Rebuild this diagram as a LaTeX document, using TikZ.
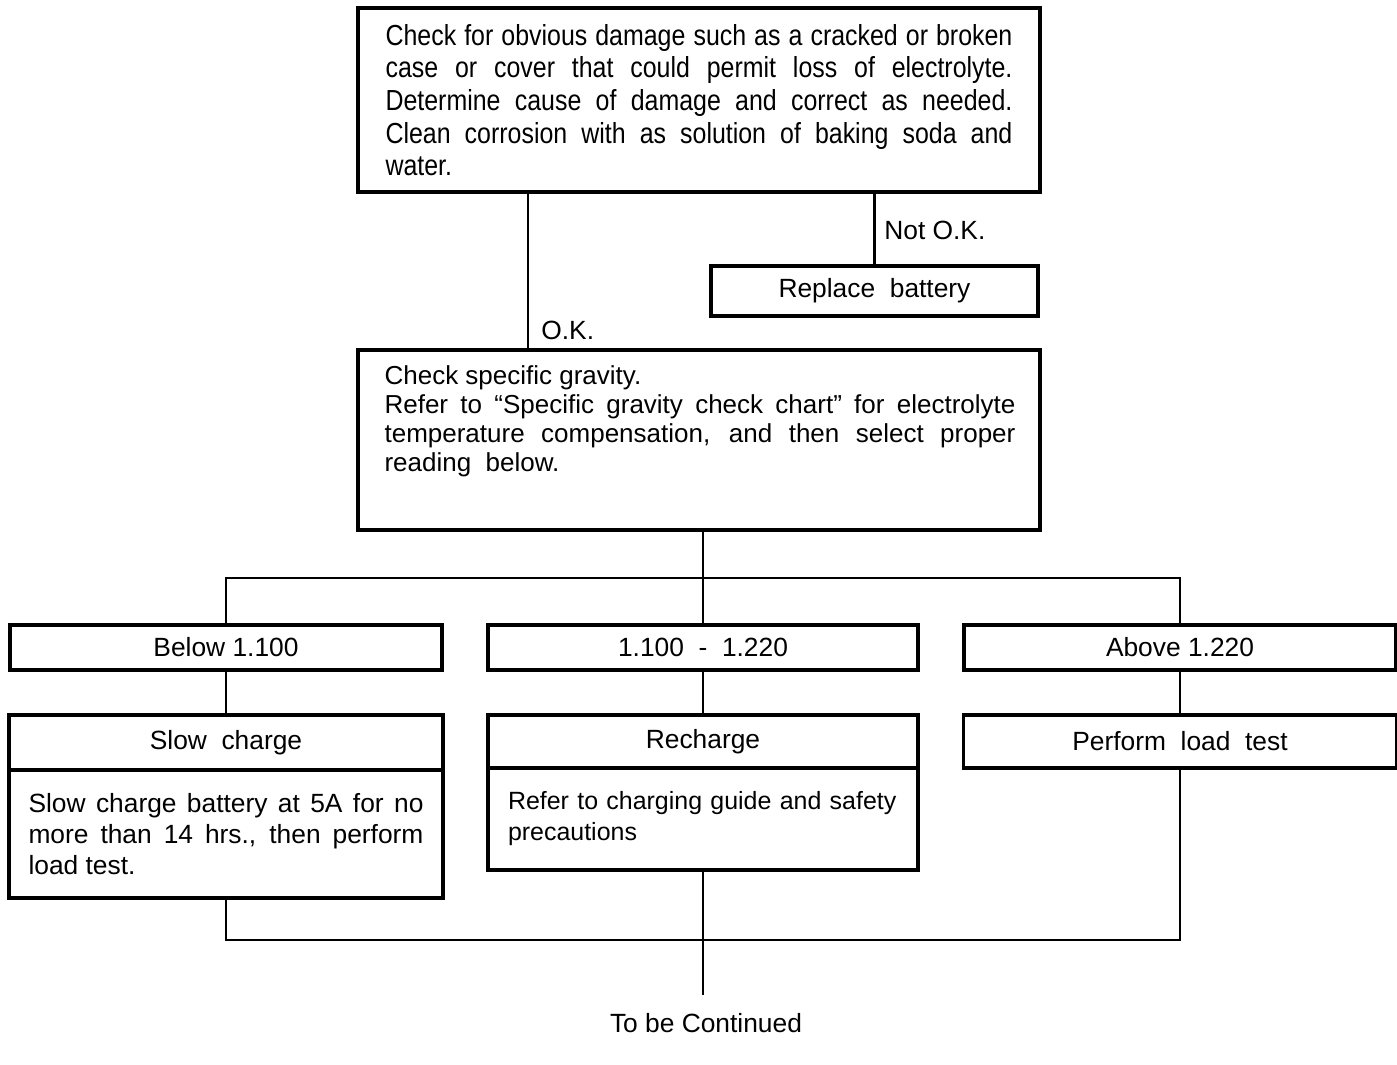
\documentclass[tikz,border=0pt]{standalone}
\usepackage{fontspec}
\setmainfont{Liberation Sans}
\newfontfamily\narrowfont{Liberation Sans}[FakeStretch=0.86]
\usetikzlibrary{positioning, calc}
\hyphenpenalty=10000
\tolerance=9999

\begin{document}
\begin{tikzpicture}[
    x=0.02cm, y=-0.02cm,
    flowbox/.style={rectangle, draw, line width=1.8pt, outer sep=0pt, inner sep=0pt, align=center, font=\fontsize{15}{17.7}\selectfont},
    flowline/.style={line width=1.2pt},
    bigtext/.style={font=\narrowfont\fontsize{16.5}{18.5}\selectfont, text width=12.54cm, align=justify},
    smalltext/.style={font=\fontsize{15}{17.7}\selectfont, inner sep=0pt}
]
\useasboundingbox (0,0) rectangle (1397,1065);
\node[flowbox, bigtext, minimum width=13.64cm, minimum height=3.68cm, font=\narrowfont\fontsize{16.5}{18.6}\selectfont] (damage) at (699,100) {Check for obvious damage such as a cracked or broken\linebreak case or cover that could permit loss of electrolyte.\linebreak Determine cause of damage and correct as needed.\linebreak Clean corrosion with as solution of baking soda and\linebreak water.};
\node[flowbox, minimum width=6.54cm, minimum height=1cm] (replace) at (874.5,291) {Replace\ \ battery};
\node[flowbox, minimum width=13.64cm, minimum height=3.6cm] (gravity) at (699,440) {};
\node[bigtext, inner sep=0pt, text width=12.62cm, font=\fontsize{14.8}{16.5}\selectfont] (gravtext) at (700,421) {Check specific gravity.\par Refer to “Specific gravity check chart” for electrolyte\linebreak temperature compensation, and then select proper\linebreak reading\ \ below.};
\node[flowbox, minimum width=8.64cm, minimum height=0.9cm] (low) at (226,647.5) {Below 1.100};
\node[flowbox, minimum width=8.6cm, minimum height=0.9cm] (mid) at (703,647.5) {1.100\ \ -\ \ 1.220};
\node[flowbox, minimum width=8.64cm, minimum height=0.9cm] (high) at (1180,647.5) {Above 1.220};
\node[flowbox, minimum width=8.68cm, minimum height=1.1cm, below=0.9cm of low] (slow) {Slow\ \ charge};
\node[flowbox, minimum width=8.68cm, minimum height=2.56cm, text width=7.9cm, align=justify, below=0pt of slow] (slowbody) {Slow charge battery at 5A for no\linebreak more than 14 hrs., then perform\linebreak load test.};
\node[flowbox, minimum width=8.6cm, minimum height=1.06cm, below=0.9cm of mid] (rech) {Recharge};
\node[flowbox, minimum width=8.6cm, minimum height=2.04cm, text width=7.8cm, align=left, below=0pt of rech, font=\fontsize{14.2}{17.7}\selectfont] (rechbody) {Refer to charging guide and safety\\precautions};
\node[flowbox, minimum width=8.66cm, minimum height=1.06cm, below=0.9cm of high] (load) {Perform\ \ load\ \ test};
\node[smalltext, anchor=west] (oklabel) at (541,330) {O.K.};
\node[smalltext, anchor=west] (noklabel) at (884,230) {Not O.K.};
\node[smalltext, inner ysep=10pt, anchor=north] (cont) at (706,995) {To be Continued};
\coordinate (okx) at (528,0);
\coordinate (splitbus) at (0,578);
\coordinate (joinbus) at (0,940);
\draw[flowline] (damage.south -| okx) -- (gravity.north -| okx);
\draw[flowline] (damage.south -| replace.north) -- (replace.north);
\draw[flowline] (gravity.south -| mid.north) -- (mid.north);
\draw[flowline] (low.north) -- (low.north |- splitbus) -- (high.north |- splitbus) -- (high.north);
\draw[flowline] (low) -- (slow);
\draw[flowline] (mid) -- (rech);
\draw[flowline] (high) -- (load);
\draw[flowline] (slowbody.south) -- (slowbody.south |- joinbus) -- (load.south |- joinbus) -- (load.south);
\draw[flowline] (rechbody.south) -- (rechbody.south |- cont.north);
\end{tikzpicture}
\end{document}
